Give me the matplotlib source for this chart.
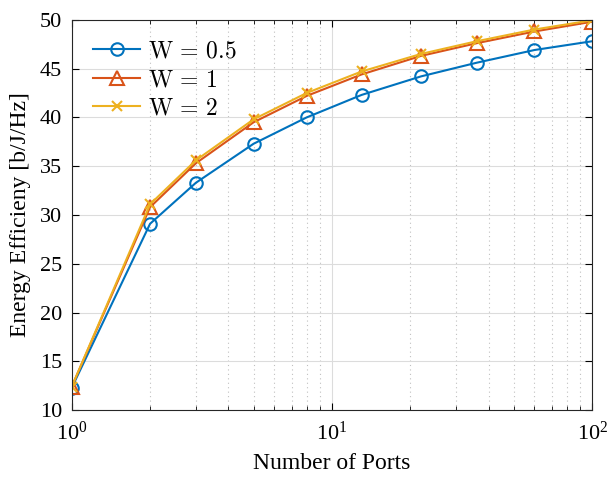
import numpy as np
import matplotlib.pyplot as plt
from matplotlib.ticker import LogLocator, NullFormatter

plt.rcParams['font.family'] = ['Liberation Serif', 'DejaVu Serif']
plt.rcParams['mathtext.fontset'] = 'cm'

# Data
ports = [1, 2, 3, 5, 8, 13, 22, 36, 60, 100]
ee_w05 = [12.3, 29.1, 33.3, 37.3, 40.0, 42.3, 44.2, 45.6, 46.9, 47.8]
ee_w1 = [12.4, 30.8, 35.3, 39.5, 42.2, 44.4, 46.3, 47.6, 48.8, 49.8]
ee_w2 = [12.4, 31.1, 35.6, 39.8, 42.5, 44.7, 46.5, 47.8, 49.0, 49.95]
labels = [r'$\mathrm{W}\,=\,0.5$', r'$\mathrm{W}\,=\,1$', r'$\mathrm{W}\,=\,2$']

c_blue = (0, 0.447, 0.741)
c_orange = (0.85, 0.325, 0.098)
c_yellow = (0.929, 0.694, 0.125)

fig = plt.figure(figsize=(6.08, 4.82), dpi=100)
ax = fig.add_axes([0.118, 0.149, 0.856, 0.81])

ax.plot(ports, ee_w05, '-o', color=c_blue, lw=1.5, ms=9, mfc='none', mew=1.5, label=labels[0])
ax.plot(ports, ee_w1, '-^', color=c_orange, lw=1.5, ms=10, mfc='none', mew=1.5, label=labels[1])
ax.plot(ports, ee_w2, '-x', color=c_yellow, lw=1.5, ms=7, mew=1.5, label=labels[2])

ax.set_xscale('log')
ax.set_xlim(1, 100)
ax.set_ylim(10, 50)
ax.set_yticks(np.arange(10, 51, 5))
ax.xaxis.set_minor_locator(LogLocator(base=10, subs=np.arange(2, 10)))
ax.xaxis.set_minor_formatter(NullFormatter())

ax.grid(True, which='major', color='#dcdcdc', lw=0.8)
ax.grid(True, which='minor', axis='x', color='#c0c0c0', lw=0.8, ls=(0, (1, 3)))
ax.set_axisbelow(True)

ax.tick_params(which='both', direction='in', top=True, right=True, labelsize=16)
ax.tick_params(which='major', length=5)
ax.tick_params(which='minor', length=3)
ax.tick_params(axis='x', pad=8)
ax.tick_params(axis='y', pad=7)
for s in ax.spines.values():
    s.set_linewidth(0.8)
    s.set_color('#262626')

ax.set_xlabel('Number of Ports', fontsize=17, labelpad=6)
ax.set_ylabel('Energy Efficieny [b/J/Hz]', fontsize=17, labelpad=6)

leg = ax.legend(loc='upper left', fontsize=17, frameon=False, handlelength=2.0,
                borderaxespad=0.5, labelspacing=0.3, handletextpad=0.35)

fig.savefig('out.png', dpi=100)
